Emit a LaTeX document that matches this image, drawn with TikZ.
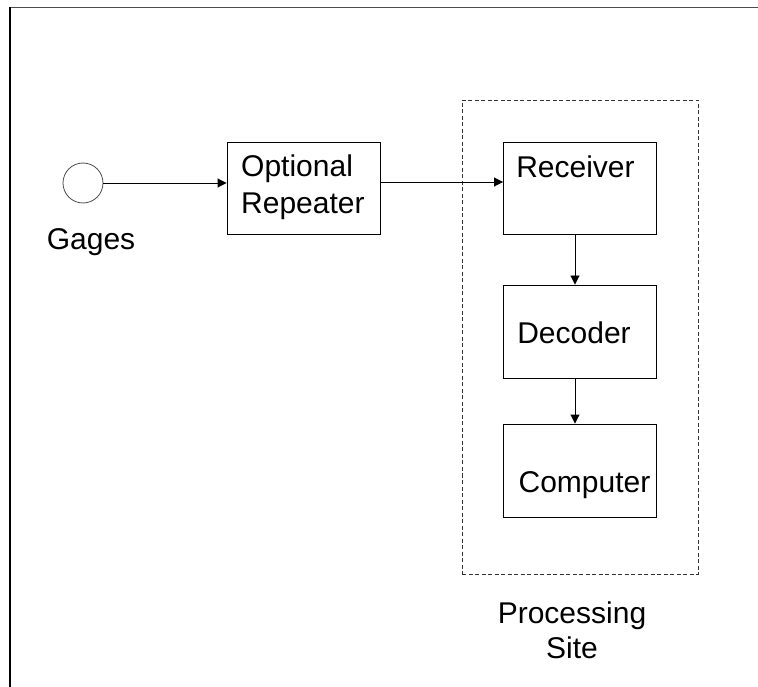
\documentclass[tikz,border=0pt]{standalone}
\usepackage{fontspec}
\setmainfont{Liberation Sans}
\usetikzlibrary{arrows.meta}
\begin{document}
\begin{tikzpicture}[x=1pt,y=-1pt,
  boxst/.style={draw=black,line width=0.9pt,rectangle,inner sep=0pt,minimum width=153pt},
  txt/.style={inner sep=0pt,font=\fontsize{30}{37}\selectfont},
  arr/.style={draw=black,line width=0.9pt,-{Triangle[length=9pt,width=9pt]}},
  sitest/.style={draw=black!80,line width=0.9pt,dash pattern=on 4pt off 2.5pt,rectangle,inner sep=0pt}]
\useasboundingbox (0,0) rectangle (758,687);
\fill[white] (0,0) rectangle (758,687);
\draw[black!70,line width=1.5pt] (10,7.5) -- (758,7.5);
\draw[black,line width=1.5pt] (10,687) -- (10,7);
% nodes
\node[draw=black!70,line width=0.8pt,circle,minimum size=40pt,inner sep=0pt] (g) at (83,183) {};
\node[txt,anchor=base] (gt) at (91,250) {Gages};
\node[boxst,minimum height=92pt] (rep) at (303.5,188) {};
\node[txt,align=left,anchor=north west] (rept) at (241,155) {Optional\\Repeater};
\node[sitest,minimum width=236pt,minimum height=474pt] (site) at (580,337) {};
\node[boxst,minimum height=92pt] (rec) at (580,188) {};
\node[txt,anchor=base] (rect) at (575.5,178) {Receiver};
\node[boxst,minimum height=93pt] (dec) at (580,331.5) {};
\node[txt,anchor=base] (dect) at (574,343) {Decoder};
\node[boxst,minimum height=93pt] (comp) at (580,470.5) {};
\node[txt,anchor=base] (compt) at (584.5,492) {Computer};
\node[txt,align=center,anchor=base,font=\fontsize{30}{35}\selectfont] (sitet) at (572,658) {Processing\\Site};
% connectors
\draw[arr] (g.east) -- (g.east -| rep.west);
\draw[arr] ([yshift=6pt]rep.east) -- ([yshift=6pt]rec.west);
\draw[arr] ([xshift=-5pt]rec.south) -- ([xshift=-5pt]dec.north);
\draw[arr] ([xshift=-5pt]dec.south) -- ([xshift=-5pt]comp.north);
\end{tikzpicture}
\end{document}
